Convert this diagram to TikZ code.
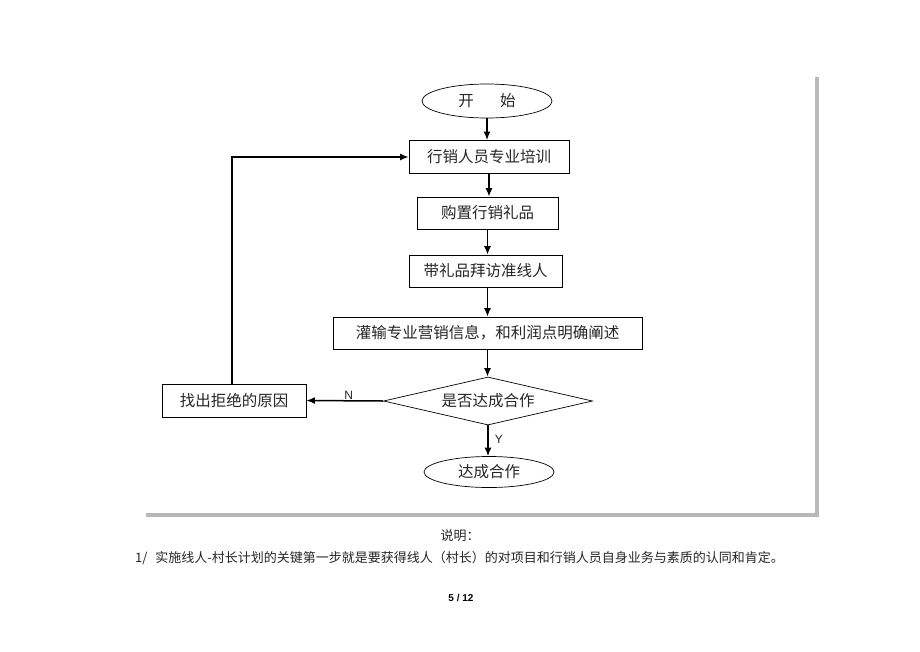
\documentclass[tikz,border=0pt]{standalone}
\usepackage{fontspec}
\setmainfont{Noto Sans CJK SC}
\newfontfamily\latinsans{Liberation Sans}
\usetikzlibrary{shapes.geometric,arrows.meta}

\begin{document}
\begin{tikzpicture}[x=1pt,y=-1pt,
  stepbox/.style={draw,line width=0.7pt,inner sep=0pt,minimum height=32pt,
    text=black!85,font=\fontsize{15.5}{18}\selectfont},
  endcap/.style={stepbox,ellipse,minimum width=130pt},
  askbox/.style={stepbox,diamond,shape aspect=4.3,minimum width=209pt,minimum height=48pt},
  flow/.style={-{Latex[length=8.5pt,width=7pt]},line width=1.5pt},
  yesno/.style={font=\latinsans\fontsize{12}{13}\selectfont,text=black!85}]
\useasboundingbox[fill=white] (0,0) rectangle (920,651);
% shaded page frame
\draw[black!28,line width=4.5pt] (146,515) -- (817,515) -- (817,77);
% the steps
\node[endcap,minimum height=34pt] (start) at (487,101) {开\hspace{1.7em}始};
\node[stepbox,minimum width=160pt,minimum height=33pt] (train) at (489,157) {行销人员专业培训};
\node[stepbox,minimum width=141pt] (gift) at (487.5,213) {购置行销礼品};
\node[stepbox,minimum width=153pt] (visit) at (485.5,271) {带礼品拜访准线人};
\node[stepbox,minimum width=309pt] (inform) at (487.5,333) {灌输专业营销信息，和利润点明确阐述};
\node[askbox] (ask) at (488,401) {是否达成合作};
\node[stepbox,minimum width=144pt,minimum height=33pt] (why) at (234,400.5) {找出拒绝的原因};
\node[endcap,minimum height=31pt] (deal) at (489,472) {达成合作};
% connectors
\draw[flow] (start.south) -- (start.south |- train.north);
\draw[flow] (train.south) -- (train.south |- gift.north);
\draw[flow] (gift.south) -- (gift.south |- visit.north);
\draw[flow] (gift.south |- visit.south) -- (gift.south |- inform.north);
\draw[flow] (gift.south |- inform.south) -- (gift.south |- ask.north);
\draw[flow] (ask.west) -- node[yesno,above,pos=0.45,inner sep=1pt] {N} (why.east);
\draw[flow] (ask.south) -- node[yesno,right,pos=0.45,inner sep=6pt] {Y} (ask.south |- deal.north);
\draw[flow] ([xshift=-2pt]why.north) |- (train.west);
% notes below the frame
\node[font=\fontsize{13}{15}\selectfont,text=black!85] (note) at (460,536) {说明：};
\node[anchor=west,inner sep=0pt,font=\fontsize{13}{15}\selectfont,text=black!85] (point) at (135,558)
  {1/\hspace{0.6em}实施线人-村长计划的关键第一步就是要获得线人（村长）的对项目和行销人员自身业务与素质的认同和肯定。};
\node[font=\latinsans\bfseries\fontsize{10}{12}\selectfont] (page) at (461,598) {5 / 12};
\end{tikzpicture}
\end{document}
